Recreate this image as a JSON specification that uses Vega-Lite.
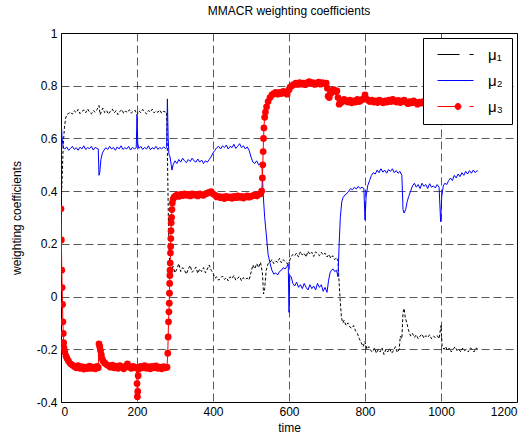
{
  "$schema": "https://vega.github.io/schema/vega-lite/v6.json",
  "width": 456,
  "height": 369,
  "autosize": {"type": "none"},
  "padding": {"left": 61, "top": 33, "right": 14, "bottom": 37},
  "background": "white",
  "title": {"text": "MMACR weighting coefficients", "fontSize": 12, "fontWeight": "normal", "font": "Liberation Sans", "offset": 9, "color": "black"},
  "config": {
    "view": {"stroke": "black", "strokeWidth": 1},
    "axis": {"labelFont": "Liberation Sans", "labelFontSize": 12, "labelColor": "black", "titleFont": "Liberation Sans", "titleFontSize": 12, "titleFontWeight": "normal", "titleColor": "black", "grid": true, "gridDash": [8, 4], "gridColor": "#000000", "gridOpacity": 0.65, "gridWidth": 1, "domain": false, "ticks": false}
  },
  "datasets": {
    "mu1": [
      {"t":0,"v":0.333},{"t":3,"v":0.45},{"t":6,"v":0.58},{"t":9,"v":0.64},{"t":12,"v":0.675},{"t":15,"v":0.69},{"t":20,"v":0.695},{"t":25,"v":0.70},{"t":30,"v":0.692},{"t":35,"v":0.705},{"t":40,"v":0.698},{"t":45,"v":0.71},{"t":50,"v":0.694},{"t":55,"v":0.703},{"t":60,"v":0.708},{"t":65,"v":0.697},{"t":70,"v":0.712},{"t":75,"v":0.70},{"t":80,"v":0.693},{"t":85,"v":0.706},{"t":90,"v":0.699},{"t":95,"v":0.71},{"t":100,"v":0.725},{"t":103,"v":0.69},{"t":106,"v":0.70},{"t":110,"v":0.715},{"t":115,"v":0.698},{"t":120,"v":0.706},{"t":125,"v":0.692},{"t":130,"v":0.703},{"t":135,"v":0.712},{"t":140,"v":0.697},{"t":145,"v":0.705},{"t":150,"v":0.69},{"t":155,"v":0.702},{"t":160,"v":0.71},{"t":165,"v":0.695},{"t":170,"v":0.704},{"t":175,"v":0.698},{"t":180,"v":0.709},{"t":185,"v":0.696},{"t":190,"v":0.703},{"t":195,"v":0.707},{"t":200,"v":0.69},{"t":205,"v":0.705},{"t":210,"v":0.698},{"t":215,"v":0.71},{"t":220,"v":0.70},{"t":225,"v":0.693},{"t":230,"v":0.706},{"t":235,"v":0.70},{"t":240,"v":0.711},{"t":245,"v":0.697},{"t":250,"v":0.704},{"t":255,"v":0.699},{"t":260,"v":0.708},{"t":265,"v":0.695},{"t":270,"v":0.703},{"t":275,"v":0.70},{"t":278,"v":0.70},
      {"t":280,"v":0.55},{"t":283,"v":0.25},{"t":286,"v":0.12},{"t":290,"v":0.10},{"t":295,"v":0.115},{"t":300,"v":0.09},{"t":305,"v":0.105},{"t":310,"v":0.125},{"t":315,"v":0.095},{"t":320,"v":0.11},{"t":325,"v":0.10},{"t":330,"v":0.085},{"t":335,"v":0.105},{"t":340,"v":0.118},{"t":345,"v":0.092},{"t":350,"v":0.10},{"t":355,"v":0.112},{"t":360,"v":0.088},{"t":365,"v":0.105},{"t":370,"v":0.095},{"t":375,"v":0.11},{"t":380,"v":0.09},{"t":385,"v":0.104},{"t":390,"v":0.12},{"t":395,"v":0.10},{"t":400,"v":0.09},{"t":405,"v":0.07},{"t":410,"v":0.075},{"t":415,"v":0.062},{"t":420,"v":0.07},{"t":425,"v":0.078},{"t":430,"v":0.065},{"t":435,"v":0.072},{"t":440,"v":0.06},{"t":445,"v":0.075},{"t":450,"v":0.068},{"t":455,"v":0.08},{"t":460,"v":0.062},{"t":465,"v":0.07},{"t":470,"v":0.076},{"t":475,"v":0.06},{"t":480,"v":0.072},{"t":485,"v":0.065},{"t":490,"v":0.07},{"t":495,"v":0.063},{"t":505,"v":0.12},{"t":510,"v":0.105},{"t":515,"v":0.125},{"t":520,"v":0.11},{"t":525,"v":0.13},{"t":530,"v":0.09},{"t":533,"v":0.01},{"t":536,"v":0.03},{"t":540,"v":0.10},{"t":545,"v":0.125},{"t":550,"v":0.13},{"t":555,"v":0.14},{"t":560,"v":0.125},{"t":565,"v":0.135},{"t":570,"v":0.13},{"t":575,"v":0.145},{"t":580,"v":0.128},{"t":585,"v":0.14},{"t":590,"v":0.132},{"t":595,"v":0.125},{"t":600,"v":0.13},{"t":605,"v":0.15},{"t":610,"v":0.16},{"t":615,"v":0.155},{"t":620,"v":0.165},{"t":625,"v":0.15},{"t":630,"v":0.17},{"t":635,"v":0.158},{"t":640,"v":0.165},{"t":645,"v":0.15},{"t":650,"v":0.172},{"t":655,"v":0.16},{"t":660,"v":0.168},{"t":665,"v":0.152},{"t":670,"v":0.17},{"t":675,"v":0.162},{"t":680,"v":0.155},{"t":685,"v":0.168},{"t":690,"v":0.158},{"t":695,"v":0.165},{"t":700,"v":0.15},{"t":705,"v":0.16},{"t":710,"v":0.145},{"t":715,"v":0.155},{"t":720,"v":0.14},{"t":725,"v":0.148},{"t":729,"v":0.135},
      {"t":732,"v":0.05},{"t":735,"v":-0.02},{"t":738,"v":-0.08},{"t":742,"v":-0.1},{"t":745,"v":-0.09},{"t":750,"v":-0.11},{"t":755,"v":-0.1},{"t":760,"v":-0.115},{"t":765,"v":-0.12},{"t":770,"v":-0.11},{"t":775,"v":-0.13},{"t":780,"v":-0.14},{"t":785,"v":-0.16},{"t":790,"v":-0.175},{"t":795,"v":-0.19},{"t":800,"v":-0.17},{"t":805,"v":-0.2},{"t":810,"v":-0.19},{"t":815,"v":-0.205},{"t":820,"v":-0.21},{"t":825,"v":-0.195},{"t":830,"v":-0.215},{"t":835,"v":-0.2},{"t":840,"v":-0.21},{"t":845,"v":-0.195},{"t":850,"v":-0.22},{"t":855,"v":-0.2},{"t":860,"v":-0.21},{"t":865,"v":-0.198},{"t":870,"v":-0.215},{"t":875,"v":-0.205},{"t":880,"v":-0.19},{"t":885,"v":-0.212},{"t":890,"v":-0.2},{"t":893,"v":-0.15},{"t":897,"v":-0.16},{"t":900,"v":-0.06},{"t":903,"v":-0.045},{"t":906,"v":-0.08},{"t":910,"v":-0.1},{"t":915,"v":-0.13},{"t":920,"v":-0.15},{"t":925,"v":-0.14},{"t":930,"v":-0.155},{"t":935,"v":-0.145},{"t":940,"v":-0.16},{"t":945,"v":-0.15},{"t":950,"v":-0.142},{"t":955,"v":-0.158},{"t":960,"v":-0.148},{"t":965,"v":-0.155},{"t":970,"v":-0.145},{"t":975,"v":-0.16},{"t":980,"v":-0.15},{"t":985,"v":-0.155},{"t":990,"v":-0.148},{"t":995,"v":-0.16},{"t":1000,"v":-0.11},{"t":1003,"v":-0.19},{"t":1008,"v":-0.2},{"t":1012,"v":-0.19},{"t":1017,"v":-0.205},{"t":1022,"v":-0.195},{"t":1027,"v":-0.21},{"t":1032,"v":-0.2},{"t":1037,"v":-0.19},{"t":1042,"v":-0.205},{"t":1047,"v":-0.2},{"t":1052,"v":-0.21},{"t":1057,"v":-0.195},{"t":1062,"v":-0.205},{"t":1067,"v":-0.2},{"t":1072,"v":-0.21},{"t":1077,"v":-0.195},{"t":1082,"v":-0.2},{"t":1087,"v":-0.21},{"t":1092,"v":-0.195},{"t":1097,"v":-0.2}
    ],
    "mu2": [
      {"t":0,"v":0.333},{"t":1,"v":0.65},{"t":3,"v":0.60},{"t":6,"v":0.565},{"t":10,"v":0.56},{"t":15,"v":0.568},{"t":20,"v":0.555},{"t":25,"v":0.562},{"t":30,"v":0.57},{"t":35,"v":0.558},{"t":40,"v":0.565},{"t":45,"v":0.555},{"t":50,"v":0.567},{"t":55,"v":0.56},{"t":60,"v":0.572},{"t":65,"v":0.558},{"t":70,"v":0.565},{"t":75,"v":0.561},{"t":80,"v":0.57},{"t":85,"v":0.556},{"t":90,"v":0.566},{"t":95,"v":0.562},{"t":98,"v":0.56},{"t":100,"v":0.46},{"t":102,"v":0.47},{"t":105,"v":0.52},{"t":109,"v":0.545},{"t":113,"v":0.555},{"t":118,"v":0.565},{"t":123,"v":0.558},{"t":128,"v":0.57},{"t":133,"v":0.56},{"t":138,"v":0.566},{"t":143,"v":0.555},{"t":148,"v":0.568},{"t":153,"v":0.56},{"t":158,"v":0.572},{"t":163,"v":0.558},{"t":168,"v":0.565},{"t":173,"v":0.56},{"t":178,"v":0.57},{"t":183,"v":0.556},{"t":188,"v":0.566},{"t":193,"v":0.56},{"t":198,"v":0.565},{"t":200,"v":0.69},{"t":202,"v":0.58},{"t":205,"v":0.562},{"t":210,"v":0.57},{"t":215,"v":0.558},{"t":220,"v":0.566},{"t":225,"v":0.56},{"t":230,"v":0.572},{"t":235,"v":0.557},{"t":240,"v":0.565},{"t":245,"v":0.56},{"t":250,"v":0.57},{"t":255,"v":0.558},{"t":260,"v":0.566},{"t":265,"v":0.56},{"t":270,"v":0.568},{"t":275,"v":0.562},{"t":278,"v":0.565},
      {"t":280,"v":0.75},{"t":282,"v":0.60},{"t":284,"v":0.54},{"t":287,"v":0.53},{"t":290,"v":0.50},{"t":292,"v":0.48},{"t":295,"v":0.50},{"t":300,"v":0.515},{"t":305,"v":0.505},{"t":310,"v":0.52},{"t":315,"v":0.51},{"t":320,"v":0.525},{"t":325,"v":0.515},{"t":330,"v":0.508},{"t":335,"v":0.52},{"t":340,"v":0.512},{"t":345,"v":0.525},{"t":350,"v":0.515},{"t":355,"v":0.51},{"t":360,"v":0.522},{"t":365,"v":0.51},{"t":370,"v":0.518},{"t":375,"v":0.505},{"t":380,"v":0.515},{"t":385,"v":0.51},{"t":390,"v":0.52},{"t":395,"v":0.53},{"t":400,"v":0.545},{"t":405,"v":0.555},{"t":410,"v":0.565},{"t":415,"v":0.57},{"t":420,"v":0.56},{"t":425,"v":0.572},{"t":430,"v":0.565},{"t":435,"v":0.575},{"t":440,"v":0.56},{"t":445,"v":0.57},{"t":450,"v":0.565},{"t":455,"v":0.578},{"t":460,"v":0.562},{"t":465,"v":0.57},{"t":470,"v":0.58},{"t":475,"v":0.565},{"t":480,"v":0.572},{"t":485,"v":0.56},{"t":490,"v":0.568},{"t":495,"v":0.555},{"t":500,"v":0.53},{"t":505,"v":0.51},{"t":510,"v":0.505},{"t":515,"v":0.515},{"t":520,"v":0.50},{"t":525,"v":0.505},{"t":529,"v":0.49},{"t":532,"v":0.39},{"t":536,"v":0.30},{"t":540,"v":0.24},{"t":545,"v":0.16},{"t":550,"v":0.127},{"t":555,"v":0.10},{"t":560,"v":0.085},{"t":565,"v":0.09},{"t":570,"v":0.082},{"t":575,"v":0.095},{"t":580,"v":0.1},{"t":585,"v":0.11},{"t":590,"v":0.105},{"t":595,"v":0.115},{"t":598,"v":0.125},{"t":600,"v":-0.06},{"t":602,"v":0.08},{"t":606,"v":0.075},{"t":610,"v":0.05},{"t":615,"v":0.04},{"t":620,"v":0.055},{"t":625,"v":0.035},{"t":630,"v":0.045},{"t":635,"v":0.03},{"t":640,"v":0.05},{"t":645,"v":0.035},{"t":650,"v":0.025},{"t":655,"v":0.045},{"t":660,"v":0.03},{"t":665,"v":0.04},{"t":670,"v":0.025},{"t":675,"v":0.05},{"t":680,"v":0.035},{"t":685,"v":0.045},{"t":690,"v":0.02},{"t":695,"v":0.035},{"t":700,"v":0.016},{"t":704,"v":0.06},{"t":708,"v":0.09},{"t":712,"v":0.10},{"t":716,"v":0.105},{"t":720,"v":0.095},{"t":725,"v":0.1},{"t":729,"v":0.075},{"t":732,"v":0.2},{"t":735,"v":0.3},{"t":739,"v":0.36},{"t":742,"v":0.375},{"t":747,"v":0.385},{"t":752,"v":0.39},{"t":757,"v":0.4},{"t":762,"v":0.41},{"t":767,"v":0.405},{"t":772,"v":0.415},{"t":777,"v":0.408},{"t":782,"v":0.418},{"t":787,"v":0.41},{"t":792,"v":0.415},{"t":797,"v":0.41},{"t":800,"v":0.29},{"t":803,"v":0.38},{"t":807,"v":0.42},{"t":812,"v":0.44},{"t":817,"v":0.46},{"t":822,"v":0.47},{"t":827,"v":0.465},{"t":832,"v":0.48},{"t":837,"v":0.47},{"t":842,"v":0.485},{"t":847,"v":0.472},{"t":852,"v":0.48},{"t":857,"v":0.468},{"t":862,"v":0.482},{"t":867,"v":0.475},{"t":872,"v":0.485},{"t":877,"v":0.47},{"t":882,"v":0.478},{"t":887,"v":0.468},{"t":892,"v":0.475},{"t":897,"v":0.46},{"t":900,"v":0.33},{"t":903,"v":0.317},{"t":907,"v":0.33},{"t":911,"v":0.36},{"t":915,"v":0.38},{"t":920,"v":0.40},{"t":925,"v":0.42},{"t":930,"v":0.43},{"t":935,"v":0.415},{"t":940,"v":0.425},{"t":945,"v":0.41},{"t":950,"v":0.43},{"t":955,"v":0.418},{"t":960,"v":0.425},{"t":965,"v":0.41},{"t":970,"v":0.428},{"t":975,"v":0.415},{"t":980,"v":0.42},{"t":985,"v":0.412},{"t":990,"v":0.425},{"t":995,"v":0.415},{"t":999,"v":0.284},{"t":1002,"v":0.38},{"t":1006,"v":0.42},{"t":1010,"v":0.43},{"t":1015,"v":0.425},{"t":1020,"v":0.44},{"t":1025,"v":0.45},{"t":1030,"v":0.44},{"t":1035,"v":0.46},{"t":1040,"v":0.45},{"t":1045,"v":0.465},{"t":1050,"v":0.455},{"t":1055,"v":0.47},{"t":1060,"v":0.46},{"t":1065,"v":0.475},{"t":1070,"v":0.465},{"t":1075,"v":0.478},{"t":1080,"v":0.468},{"t":1085,"v":0.48},{"t":1090,"v":0.47},{"t":1095,"v":0.478},{"t":1097,"v":0.475}
    ],
    "mu3": [
      {"t":0,"v":0.333},{"t":1,"v":0.215},{"t":2,"v":0.10},{"t":3,"v":0.034},{"t":4,"v":-0.03},{"t":5,"v":-0.096},{"t":6,"v":-0.14},{"t":7,"v":-0.175},{"t":8,"v":-0.195},{"t":10,"v":-0.21},{"t":13,"v":-0.225},{"t":16,"v":-0.235},{"t":20,"v":-0.245},{"t":25,"v":-0.255},{"t":30,"v":-0.26},{"t":35,"v":-0.265},{"t":40,"v":-0.27},{"t":45,"v":-0.262},{"t":50,"v":-0.272},{"t":55,"v":-0.266},{"t":60,"v":-0.275},{"t":65,"v":-0.268},{"t":70,"v":-0.273},{"t":75,"v":-0.264},{"t":80,"v":-0.272},{"t":85,"v":-0.268},{"t":90,"v":-0.274},{"t":95,"v":-0.265},{"t":98,"v":-0.27},{"t":100,"v":-0.18},{"t":102,"v":-0.19},{"t":104,"v":-0.205},{"t":106,"v":-0.22},{"t":108,"v":-0.235},{"t":111,"v":-0.245},{"t":115,"v":-0.252},{"t":120,"v":-0.258},{"t":125,"v":-0.262},{"t":130,"v":-0.268},{"t":135,"v":-0.26},{"t":140,"v":-0.27},{"t":145,"v":-0.264},{"t":150,"v":-0.272},{"t":155,"v":-0.262},{"t":160,"v":-0.268},{"t":165,"v":-0.274},{"t":170,"v":-0.264},{"t":175,"v":-0.255},{"t":180,"v":-0.268},{"t":185,"v":-0.272},{"t":190,"v":-0.265},{"t":195,"v":-0.27},{"t":198,"v":-0.27},{"t":200,"v":-0.33},{"t":201,"v":-0.38},{"t":202,"v":-0.36},{"t":203,"v":-0.3},{"t":205,"v":-0.275},{"t":210,"v":-0.265},{"t":215,"v":-0.27},{"t":220,"v":-0.262},{"t":225,"v":-0.272},{"t":230,"v":-0.266},{"t":235,"v":-0.274},{"t":240,"v":-0.265},{"t":245,"v":-0.27},{"t":250,"v":-0.263},{"t":255,"v":-0.272},{"t":260,"v":-0.268},{"t":265,"v":-0.274},{"t":270,"v":-0.266},{"t":275,"v":-0.27},{"t":279,"v":-0.268},
      {"t":281,"v":-0.215},{"t":282,"v":-0.153},{"t":283,"v":-0.096},{"t":284,"v":-0.058},{"t":285,"v":-0.025},{"t":285.5,"v":0.013},{"t":286,"v":0.05},{"t":286.5,"v":0.08},{"t":287,"v":0.1},{"t":287.5,"v":0.127},{"t":288,"v":0.165},{"t":288.5,"v":0.19},{"t":289,"v":0.22},{"t":289.5,"v":0.25},{"t":290,"v":0.28},{"t":291,"v":0.30},{"t":292,"v":0.33},{"t":293,"v":0.355},{"t":295,"v":0.37},{"t":298,"v":0.378},{"t":302,"v":0.382},{"t":306,"v":0.386},{"t":310,"v":0.38},{"t":315,"v":0.388},{"t":320,"v":0.383},{"t":325,"v":0.39},{"t":330,"v":0.384},{"t":335,"v":0.388},{"t":340,"v":0.382},{"t":345,"v":0.39},{"t":350,"v":0.385},{"t":355,"v":0.388},{"t":360,"v":0.382},{"t":365,"v":0.39},{"t":370,"v":0.386},{"t":375,"v":0.384},{"t":380,"v":0.39},{"t":385,"v":0.392},{"t":390,"v":0.395},{"t":395,"v":0.398},{"t":400,"v":0.39},{"t":405,"v":0.385},{"t":410,"v":0.378},{"t":415,"v":0.38},{"t":420,"v":0.375},{"t":425,"v":0.378},{"t":430,"v":0.372},{"t":435,"v":0.38},{"t":440,"v":0.375},{"t":445,"v":0.378},{"t":450,"v":0.373},{"t":455,"v":0.38},{"t":460,"v":0.375},{"t":465,"v":0.382},{"t":470,"v":0.376},{"t":475,"v":0.38},{"t":480,"v":0.374},{"t":485,"v":0.378},{"t":490,"v":0.382},{"t":495,"v":0.377},{"t":500,"v":0.38},{"t":505,"v":0.383},{"t":510,"v":0.386},{"t":515,"v":0.382},{"t":520,"v":0.388},{"t":525,"v":0.39},{"t":528,"v":0.4},{"t":530,"v":0.45},{"t":531,"v":0.5},{"t":532,"v":0.55},{"t":533,"v":0.6},{"t":534,"v":0.64},{"t":536,"v":0.68},{"t":538,"v":0.7},{"t":541,"v":0.72},{"t":545,"v":0.74},{"t":550,"v":0.755},{"t":555,"v":0.765},{"t":560,"v":0.77},{"t":565,"v":0.775},{"t":570,"v":0.768},{"t":575,"v":0.775},{"t":580,"v":0.77},{"t":585,"v":0.778},{"t":590,"v":0.772},{"t":595,"v":0.768},{"t":600,"v":0.785},{"t":603,"v":0.795},{"t":608,"v":0.8},{"t":613,"v":0.805},{"t":618,"v":0.81},{"t":623,"v":0.805},{"t":628,"v":0.812},{"t":633,"v":0.806},{"t":638,"v":0.81},{"t":643,"v":0.804},{"t":648,"v":0.812},{"t":653,"v":0.815},{"t":658,"v":0.808},{"t":663,"v":0.812},{"t":668,"v":0.805},{"t":673,"v":0.81},{"t":678,"v":0.814},{"t":683,"v":0.806},{"t":688,"v":0.812},{"t":693,"v":0.808},{"t":698,"v":0.81},{"t":701,"v":0.79},{"t":703,"v":0.76},{"t":706,"v":0.755},{"t":710,"v":0.77},{"t":714,"v":0.78},{"t":718,"v":0.785},{"t":722,"v":0.778},{"t":726,"v":0.78},{"t":729,"v":0.755},{"t":732,"v":0.73},{"t":736,"v":0.735},{"t":740,"v":0.74},{"t":745,"v":0.748},{"t":750,"v":0.742},{"t":755,"v":0.738},{"t":760,"v":0.745},{"t":765,"v":0.735},{"t":770,"v":0.742},{"t":775,"v":0.738},{"t":780,"v":0.748},{"t":785,"v":0.74},{"t":790,"v":0.745},{"t":795,"v":0.75},{"t":800,"v":0.765},{"t":803,"v":0.75},{"t":808,"v":0.745},{"t":813,"v":0.74},{"t":818,"v":0.745},{"t":823,"v":0.738},{"t":828,"v":0.742},{"t":833,"v":0.736},{"t":838,"v":0.745},{"t":843,"v":0.74},{"t":848,"v":0.735},{"t":853,"v":0.742},{"t":858,"v":0.738},{"t":863,"v":0.745},{"t":868,"v":0.74},{"t":873,"v":0.748},{"t":878,"v":0.742},{"t":883,"v":0.738},{"t":888,"v":0.744},{"t":893,"v":0.736},{"t":898,"v":0.74},{"t":903,"v":0.745},{"t":908,"v":0.738},{"t":913,"v":0.732},{"t":918,"v":0.74},{"t":923,"v":0.735},{"t":928,"v":0.742},{"t":933,"v":0.736},{"t":938,"v":0.73},{"t":943,"v":0.738},{"t":948,"v":0.734},{"t":953,"v":0.74},{"t":958,"v":0.732},{"t":963,"v":0.738},{"t":968,"v":0.735},{"t":973,"v":0.742},{"t":978,"v":0.736},{"t":983,"v":0.74},{"t":988,"v":0.735},{"t":993,"v":0.738},{"t":998,"v":0.742},{"t":1003,"v":0.738},{"t":1010,"v":0.74},{"t":1020,"v":0.735},{"t":1030,"v":0.742},{"t":1040,"v":0.738},{"t":1050,"v":0.74},{"t":1060,"v":0.736},{"t":1070,"v":0.74},{"t":1080,"v":0.738},{"t":1090,"v":0.74},{"t":1097,"v":0.738}
    ]
  },
  "encoding": {
    "x": {"field": "t", "type": "quantitative", "scale": {"domain": [0, 1200], "nice": false, "zero": false},
      "axis": {"title": "time", "values": [0, 200, 400, 600, 800, 1000, 1200], "labelExpr": "'' + datum.value", "labelPadding": 4, "titlePadding": 5}},
    "y": {"field": "v", "type": "quantitative", "scale": {"domain": [-0.4, 1], "nice": false, "zero": false},
      "axis": {"title": "weighting coefficients", "values": [-0.4, -0.2, 0, 0.2, 0.4, 0.6, 0.8, 1], "labelExpr": "'' + datum.value", "labelPadding": 4, "titlePadding": 13}}
  },
  "layer": [
    {
      "data": {"name": "mu1"},
      "mark": {"type": "line", "strokeWidth": 1, "strokeDash": [3, 2], "clip": true},
      "encoding": {
        "color": {"datum": "μ₁", "type": "nominal",
          "scale": {"domain": ["μ₁", "μ₂", "μ₃"], "range": ["#000000", "#0000ff", "#ff0000"]},
          "legend": {"title": null, "orient": "top-right", "offset": 5, "strokeColor": "black", "fillColor": "white", "padding": 9,
            "labelFont": "Liberation Sans", "labelFontSize": 15, "labelColor": "black", "symbolSize": 100, "symbolStrokeWidth": 1,
            "rowPadding": 10, "labelOffset": 41, "symbolType": "stroke",
            "encode": {"symbols": {"update": {
              "shape": {"signal": "datum.value === 'μ₃' ? 'M-0.4,0L4.0,0M6.0,0L6.8,0M4.3,0A0.6,0.6,0,1,1,3.1,0A0.6,0.6,0,1,1,4.3,0Z' : datum.value === 'μ₁' ? 'M-0.4,0L4.0,0M6.0,0L6.8,0' : 'M-0.4,0L6.8,0'"},
              "fill": {"signal": "datum.value === 'μ₃' ? '#ff0000' : 'transparent'"},
              "stroke": {"signal": "datum.value === 'μ₁' ? '#000000' : datum.value === 'μ₂' ? '#0000ff' : '#ff0000'"},
              "strokeDash": {"value": []}
            }}}}
        }
      }
    },
    {
      "data": {"name": "mu2"},
      "mark": {"type": "line", "strokeWidth": 1, "clip": true},
      "encoding": {"color": {"datum": "μ₂", "type": "nominal"}}
    },
    {
      "data": {"name": "mu3"},
      "mark": {"type": "line", "strokeWidth": 1, "clip": true, "point": {"filled": true, "size": 46, "opacity": 1}},
      "encoding": {"color": {"datum": "μ₃", "type": "nominal"}}
    }
  ]
}
